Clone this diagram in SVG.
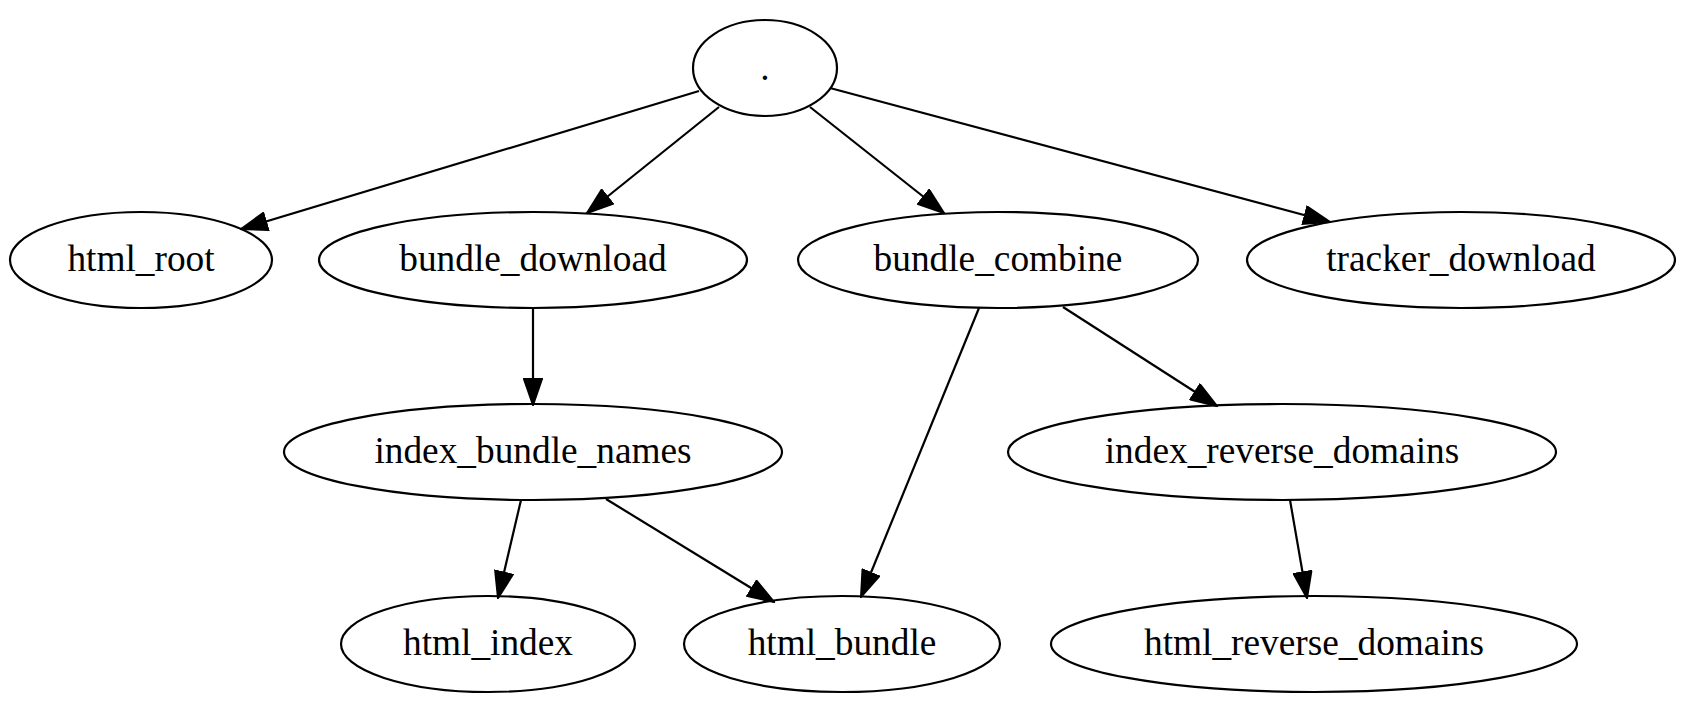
<svg xmlns="http://www.w3.org/2000/svg" width="1690" height="710" viewBox="0 0 1690 710">
<style>
.node ellipse{fill:none;stroke:#000;stroke-width:2.2}
.node text{font-family:"Liberation Serif","Times New Roman",serif;font-size:37.33px;text-anchor:middle;fill:#000}
.edges line{stroke:#000;stroke-width:2.2;marker-end:url(#arr)}
</style>
<defs>
<marker id="arr" markerUnits="userSpaceOnUse" markerWidth="28" markerHeight="20" viewBox="0 0 28 20" refX="27" refY="10" orient="auto">
<path d="M1,1 L27,10 L1,19 z" fill="#000" stroke="#000" stroke-width="2"/>
</marker>
</defs>
<rect width="1690" height="710" fill="#fff"/>
<g class="edges">
<line x1="699" y1="91" x2="241" y2="229"/>
<line x1="719" y1="107" x2="587" y2="213"/>
<line x1="810" y1="107" x2="944" y2="213"/>
<line x1="830" y1="88" x2="1330" y2="222"/>
<line x1="533" y1="308" x2="533" y2="405"/>
<line x1="521" y1="500" x2="498" y2="598"/>
<line x1="606" y1="499" x2="774" y2="602"/>
<line x1="979" y1="308" x2="861" y2="597"/>
<line x1="1063" y1="307" x2="1217" y2="406"/>
<line x1="1290" y1="500" x2="1307" y2="598"/>
</g>
<g id="node_root" class="node"><ellipse cx="765" cy="68" rx="72" ry="48"/><text x="765" y="80">.</text></g>
<g id="node_html_root" class="node"><ellipse cx="141" cy="260" rx="131" ry="48"/><text x="141" y="271">html_root</text></g>
<g id="node_bundle_download" class="node"><ellipse cx="533" cy="260" rx="214" ry="48"/><text x="533" y="271">bundle_download</text></g>
<g id="node_bundle_combine" class="node"><ellipse cx="998" cy="260" rx="200" ry="48"/><text x="998" y="271">bundle_combine</text></g>
<g id="node_tracker_download" class="node"><ellipse cx="1461" cy="260" rx="214" ry="48"/><text x="1461" y="271">tracker_download</text></g>
<g id="node_index_bundle_names" class="node"><ellipse cx="533" cy="452" rx="249" ry="48"/><text x="533" y="463">index_bundle_names</text></g>
<g id="node_index_reverse_domains" class="node"><ellipse cx="1282" cy="452" rx="274" ry="48"/><text x="1282" y="463">index_reverse_domains</text></g>
<g id="node_html_index" class="node"><ellipse cx="488" cy="644" rx="147" ry="48"/><text x="488" y="655">html_index</text></g>
<g id="node_html_bundle" class="node"><ellipse cx="842" cy="644" rx="158" ry="48"/><text x="842" y="655">html_bundle</text></g>
<g id="node_html_reverse_domains" class="node"><ellipse cx="1314" cy="644" rx="263" ry="48"/><text x="1314" y="655">html_reverse_domains</text></g>
</svg>
